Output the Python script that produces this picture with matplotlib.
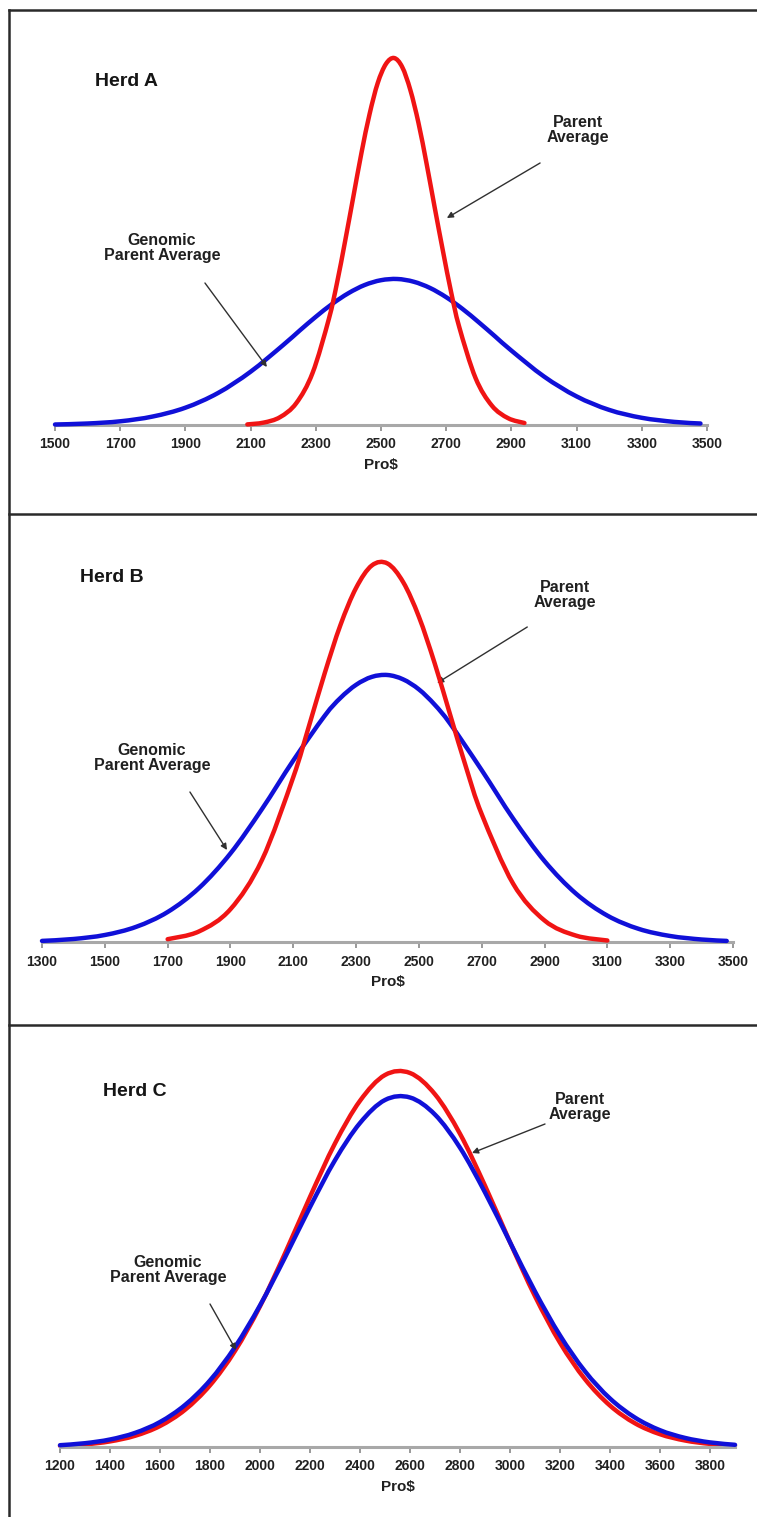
import matplotlib
matplotlib.use("Agg")
import matplotlib.pyplot as plt
from matplotlib.lines import Line2D
from matplotlib.path import Path
from matplotlib.patches import PathPatch

plt.rcParams['font.family'] = ['Liberation Sans', 'DejaVu Sans']

# ---------------- data (y = relative frequency) ----------------
# Herd A
a_pa_x = [2090, 2140, 2190, 2240, 2290, 2340, 2365, 2390, 2415, 2440, 2465, 2490, 2515, 2540,
          2565, 2590, 2615, 2640, 2665, 2690, 2715, 2740, 2790, 2840, 2890, 2940]
a_pa_y = [0.6, 2.4, 7.8, 21.8, 52, 106, 142, 184, 228, 272, 311, 342, 361, 367,
          358, 335, 302, 261, 217, 174, 133, 98, 47, 19.4, 6.8, 2.0]
a_gpa_x = [1500, 1600, 1700, 1800, 1900, 2000, 2100, 2200, 2250, 2300, 2350, 2400, 2450, 2500, 2550,
           2600, 2650, 2700, 2750, 2800, 2850, 2900, 3000, 3100, 3200, 3300, 3400, 3480]
a_gpa_y = [0.5, 1.5, 3.7, 8.5, 17.3, 32.0, 53.3, 80.0, 94.3, 108.2, 121.0, 131.8, 140.0, 144.8, 146,
           143.3, 137.1, 127.8, 116.1, 102.7, 88.6, 74.4, 48.5, 28.6, 15.1, 7.2, 3.1, 1.5]
a_ticks = [1500, 1700, 1900, 2100, 2300, 2500, 2700, 2900, 3100, 3300, 3500]

# Herd B
b_pa_x = [1700, 1800, 1900, 2000, 2100, 2150, 2200, 2250, 2300, 2350, 2400, 2450, 2500,
          2550, 2600, 2650, 2700, 2800, 2900, 3000, 3100]
b_pa_y = [2.8, 10.6, 32.8, 81.8, 164.9, 216, 268.7, 316.8, 354.1, 376.5, 378.5, 359.8, 325.2,
          278.9, 226.7, 174.8, 127.8, 58.3, 21.5, 6.4, 1.5]
b_gpa_x = [1300, 1400, 1500, 1600, 1700, 1800, 1900, 2000, 2100, 2200, 2250, 2300, 2350, 2400,
           2450, 2500, 2550, 2600, 2700, 2800, 2900, 3000, 3100, 3200, 3300, 3400, 3480]
b_gpa_y = [1.1, 3.0, 7.0, 15.2, 30.0, 54.0, 88.6, 132.8, 181.5, 226.2, 244.0, 257.2, 265.1, 267,
           262.6, 252.6, 237.4, 218.1, 171.8, 123.4, 80.9, 48.4, 26.4, 13.1, 6.0, 2.5, 1.1]
b_ticks = [1300, 1500, 1700, 1900, 2100, 2300, 2500, 2700, 2900, 3100, 3300, 3500]

# Herd C
c_pa_x = [1200, 1300, 1400, 1500, 1600, 1700, 1800, 1900, 2000, 2100, 2200, 2300, 2400, 2500,
          2600, 2700, 2800, 2900, 3000, 3100, 3200, 3300, 3400, 3500, 3600, 3700, 3800, 3900]
c_pa_y = [1.2, 2.6, 5.6, 11.2, 21.0, 37.2, 61.7, 96.1, 140.7, 193.6, 250.1, 303.6, 346.2, 372,
          374, 352.7, 313.2, 261.3, 204.8, 150.8, 104.3, 67.8, 41.4, 23.7, 12.8, 6.5, 3.1, 1.4]
c_gpa_x = [1200, 1300, 1400, 1500, 1600, 1700, 1800, 1900, 2000, 2100, 2200, 2300, 2400, 2500,
           2600, 2700, 2800, 2900, 3000, 3100, 3200, 3300, 3400, 3500, 3600, 3700, 3800, 3900]
c_gpa_y = [1.8, 3.8, 7.5, 14.1, 25.0, 42.0, 66.6, 100.0, 141.6, 189.6, 239.9, 286.8, 324.0, 347,
           349.5, 332.4, 299.3, 254.6, 204.8, 155.5, 111.6, 75.7, 48.5, 29.4, 16.8, 9.1, 4.6, 2.2]
c_ticks = [1200, 1400, 1600, 1800, 2000, 2200, 2400, 2600, 2800, 3000, 3200, 3400, 3600, 3800]

herd_names = ["Herd A", "Herd B", "Herd C"]
pa_label = "Parent\nAverage"
gpa_label = "Genomic\nParent Average"
x_label = "Pro$"

RED = '#f01414'
BLUE = '#1010d8'
GREY = '#a8a8a8'
W, H = 757, 1517

fig = plt.figure(figsize=(W / 100, H / 100), dpi=100)


def fx(px):
    return px / W


def fy(py):
    return 1 - py / H


def smooth_line(ax, xs, ys, **kw):
    """Smoothed line through the data points (like a spreadsheet 'smoothed line'),
    drawn as cubic Bezier segments in data coordinates."""
    pts = list(zip(xs, ys))
    n = len(pts)
    verts = [pts[0]]
    codes = [Path.MOVETO]
    for i in range(n - 1):
        p0 = pts[i - 1] if i > 0 else pts[i]
        p1 = pts[i]
        p2 = pts[i + 1]
        p3 = pts[i + 2] if i + 2 < n else pts[i + 1]
        c1 = (p1[0] + (p2[0] - p0[0]) / 6.0, p1[1] + (p2[1] - p0[1]) / 6.0)
        c2 = (p2[0] - (p3[0] - p1[0]) / 6.0, p2[1] - (p3[1] - p1[1]) / 6.0)
        verts += [c1, c2, p2]
        codes += [Path.CURVE4, Path.CURVE4, Path.CURVE4]
    patch = PathPatch(Path(verts, codes), fill=False, transform=ax.transData,
                      capstyle='round', joinstyle='round', clip_on=False, **kw)
    ax.add_patch(patch)


panels = [
    dict(l=55, r=707, base=425, xlim=(1500, 3500), top=380,
         pa=(a_pa_x, a_pa_y), gpa=(a_gpa_x, a_gpa_y), ticks=a_ticks,
         herd=(1623, 343),
         pa_txt=(3104, 295), pa_from=(2988, 262), pa_to=(2702, 207),
         g_txt=(1828, 177), g_from=(1960, 142), g_to=(2150, 58)),
    dict(l=42, r=733, base=942, xlim=(1300, 3500), top=390,
         pa=(b_pa_x, b_pa_y), gpa=(b_gpa_x, b_gpa_y), ticks=b_ticks,
         herd=(1421, 364),
         pa_txt=(2966, 347), pa_from=(2845, 315), pa_to=(2558, 259),
         g_txt=(1650, 184), g_from=(1771, 150), g_to=(1889, 92)),
    dict(l=60, r=735, base=1447, xlim=(1200, 3900), top=390,
         pa=(c_pa_x, c_pa_y), gpa=(c_gpa_x, c_gpa_y), ticks=c_ticks,
         herd=(1372, 355),
         pa_txt=(3280, 340), pa_from=(3140, 323), pa_to=(2848, 294),
         g_txt=(1632, 177), g_from=(1800, 143), g_to=(1904, 97)),
]

for i, p in enumerate(panels):
    ax = fig.add_axes([fx(p['l']), fy(p['base']), fx(p['r'] - p['l']), p['top'] / H])
    ax.set_xlim(*p['xlim'])
    ax.set_ylim(0, p['top'])
    for s in ['top', 'right', 'left']:
        ax.spines[s].set_visible(False)
    ax.spines['bottom'].set_color(GREY)
    ax.spines['bottom'].set_linewidth(2.2)
    ax.set_yticks([])
    ax.set_xticks(p['ticks'])
    ax.set_xticklabels([str(t) for t in p['ticks']], fontsize=10, fontweight='bold', color='#202020')
    ax.tick_params(axis='x', direction='out', length=4, width=1.2, color='#888888', pad=5)
    ax.set_xlabel(x_label, fontsize=11, fontweight='bold', color='#202020', labelpad=5)
    ax.patch.set_alpha(0)

    smooth_line(ax, p['gpa'][0], p['gpa'][1], edgecolor=BLUE, lw=3.2, zorder=3)
    smooth_line(ax, p['pa'][0], p['pa'][1], edgecolor=RED, lw=3.2, zorder=2 if i == 2 else 4)

    ax.text(p['herd'][0], p['herd'][1], herd_names[i], fontsize=14, fontweight='bold',
            ha='left', va='center', color='#151515')
    ax.text(p['pa_txt'][0], p['pa_txt'][1], pa_label, fontsize=11.5, fontweight='bold',
            ha='center', va='center', color='#202020', linespacing=1.0)
    ax.text(p['g_txt'][0], p['g_txt'][1], gpa_label, fontsize=11.5, fontweight='bold',
            ha='center', va='center', color='#202020', linespacing=1.0)
    for frm, to in [(p['pa_from'], p['pa_to']), (p['g_from'], p['g_to'])]:
        ax.annotate('', xy=to, xytext=frm,
                    arrowprops=dict(arrowstyle='-|>', color='#303030', lw=1.0,
                                    mutation_scale=9, shrinkA=0, shrinkB=0))

# panel borders
border = dict(color='#2a2a2a', lw=1.8)
fig.add_artist(Line2D([fx(9), fx(9)], [fy(10), 0], transform=fig.transFigure, **border))
for py in [10, 514, 1025]:
    fig.add_artist(Line2D([fx(9), 1], [fy(py), fy(py)], transform=fig.transFigure, **border))

fig.savefig('out.png', dpi=100)
